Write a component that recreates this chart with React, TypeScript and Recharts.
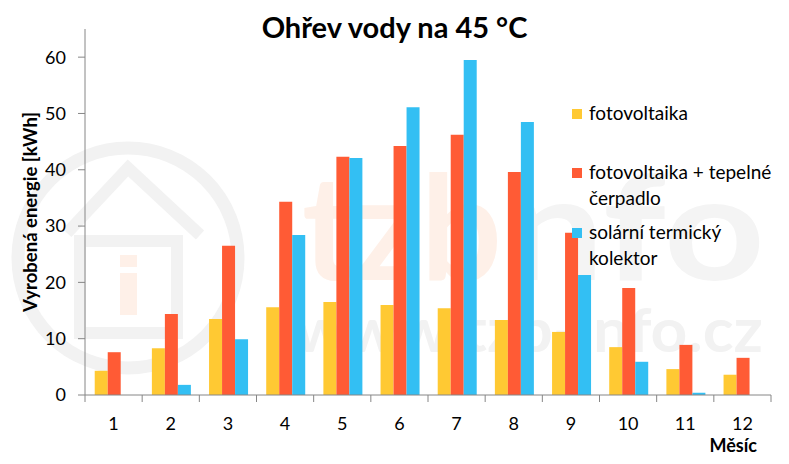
import { BarChart, Bar, XAxis, YAxis, Label } from "recharts";

const months = ["1", "2", "3", "4", "5", "6", "7", "8", "9", "10", "11", "12"];
const fotovoltaika = [4.3, 8.3, 13.5, 15.6, 16.5, 16.0, 15.4, 13.3, 11.2, 8.5, 4.6, 3.6];
const fveTepelne = [7.6, 14.4, 26.5, 34.3, 42.3, 44.2, 46.2, 39.6, 28.8, 19.0, 8.9, 6.6];
const solarni = [0, 1.8, 9.9, 28.4, 42.1, 51.1, 59.5, 48.5, 21.3, 5.9, 0.4, 0];
const yTicks = [0, 10, 20, 30, 40, 50, 60];

const series = [
  { key: "fv", name: "fotovoltaika", color: "#FFC933", lines: ["fotovoltaika"] },
  { key: "fvtc", name: "fotovoltaika + tepelné čerpadlo", color: "#FF5B35", lines: ["fotovoltaika + tepelné", "čerpadlo"] },
  { key: "sol", name: "solární termický kolektor", color: "#33BFF3", lines: ["solární termický", "kolektor"] },
];

const data = months.map((m, i) => ({
  month: m,
  fv: fotovoltaika[i],
  fvtc: fveTepelne[i],
  sol: solarni[i],
}));

const FONT = "Lato, 'Open Sans', sans-serif";
const PLOT_LEFT = 85;
const PLOT_RIGHT = 771;
const BAND = (PLOT_RIGHT - PLOT_LEFT) / months.length;
const AXIS_GRAY = "#868686";

// category ticks sit between the months, like in Excel
function MonthTick(props: any) {
  const { x, y, payload, index } = props;
  const left = x - BAND / 2;
  return (
    <g>
      <line x1={left} x2={left} y1={y} y2={y + 7} stroke={AXIS_GRAY} />
      {index === months.length - 1 && (
        <line x1={x + BAND / 2} x2={x + BAND / 2} y1={y} y2={y + 7} stroke={AXIS_GRAY} />
      )}
      <text x={x} y={y + 35} textAnchor="middle" fontSize={18} fill="#000" fontFamily={FONT}>
        {payload.value}
      </text>
    </g>
  );
}

function MonthLabel(props: any) {
  const { viewBox } = props;
  return (
    <text
      x={viewBox.x + viewBox.width - 14}
      y={viewBox.y + 57}
      textAnchor="end"
      fontSize={18}
      fontWeight="bold"
      fontFamily={FONT}
      fill="#000"
    >
      Měsíc
    </text>
  );
}

function YLabel() {
  return (
    <text
      x={30}
      y={212}
      transform="rotate(-90 30 212)"
      textAnchor="middle"
      dominantBaseline="central"
      fontSize={18.5}
      fontWeight="bold"
      fontFamily={FONT}
      fill="#000"
    >
      Vyrobená energie [kWh]
    </text>
  );
}

function LegendBox() {
  const tops = [100, 159, 219];
  return (
    <div
      style={{
        position: "absolute",
        left: 572,
        top: 0,
        width: 217,
        fontFamily: FONT,
        fontSize: 19,
        color: "#000",
      }}
    >
      {series.map((s, i) => (
        <div key={s.key} style={{ position: "absolute", left: 0, top: tops[i], whiteSpace: "nowrap" }}>
          <span
            style={{ position: "absolute", left: 0, top: 9, width: 10, height: 10, background: s.color }}
          />
          <div style={{ marginLeft: 17, lineHeight: "26px" }}>
            {s.lines.map((l) => (
              <div key={l}>{l}</div>
            ))}
          </div>
        </div>
      ))}
    </div>
  );
}

function Watermark() {
  const gray = "#F2F2F2";
  const peach = "#FEF0E8";
  return (
    <svg width={789} height={464} style={{ position: "absolute", left: 0, top: 0 }}>
      <circle cx={128} cy={258} r={110} fill="none" stroke={gray} strokeWidth={13} />
      <polyline points="67,233 128,168 200,235" fill="none" stroke={gray} strokeWidth={12} />
      <rect x={80} y={241} width={97} height={92} fill="none" stroke={gray} strokeWidth={12} />
      <rect x={120} y={255} width={17} height={12} fill={peach} />
      <rect x={120} y={273} width={17} height={42} fill={peach} />
      <text x={302} y={280} fontSize={145} fontWeight="bold" fontFamily={FONT} fill={peach}
        textLength={200} lengthAdjust="spacingAndGlyphs">
        tzb
      </text>
      <text x={505} y={280} fontSize={145} fontWeight="bold" fontFamily={FONT} fill="#F4F4F4"
        textLength={260} lengthAdjust="spacingAndGlyphs">
        nfo
      </text>
      <text x={295} y={352} fontSize={62} fontWeight="bold" fontFamily={FONT} fill={gray}
        textLength={468} lengthAdjust="spacingAndGlyphs">
        www.tzb-info.cz
      </text>
    </svg>
  );
}

export default function App() {
  return (
    <div style={{ position: "absolute", left: 0, top: 0, width: 789, height: 464, background: "#fff" }}>
      <Watermark />
      <div
        style={{
          position: "absolute",
          left: 0,
          top: 9,
          width: 789,
          textAlign: "center",
          fontFamily: FONT,
          fontWeight: "bold",
          fontSize: 29,
          color: "#000",
        }}
      >
        Ohřev vody na 45 °C
      </div>
      <div style={{ position: "absolute", left: 0, top: 0 }}>
        <BarChart
          width={789}
          height={464}
          data={data}
          margin={{ top: 29, right: 18, bottom: 0, left: 0 }}
          barCategoryGap="17%"
          barGap={0}
        >
          <XAxis
            dataKey="month"
            height={69}
            stroke={AXIS_GRAY}
            tickLine={false}
            tickSize={0}
            tickMargin={0}
            interval={0}
            tick={<MonthTick />}
          >
            <Label content={<MonthLabel />} />
          </XAxis>
          <YAxis
            width={85}
            domain={[0, 65]}
            ticks={yTicks}
            stroke={AXIS_GRAY}
            tickSize={7}
            tickMargin={12}
            tick={{ fontSize: 18, fill: "#000", fontFamily: FONT }}
            label={<YLabel />}
          />
          {series.map((s) => (
            <Bar key={s.key} dataKey={s.key} name={s.name} fill={s.color} isAnimationActive={false} />
          ))}
        </BarChart>
      </div>
      <LegendBox />
    </div>
  );
}
